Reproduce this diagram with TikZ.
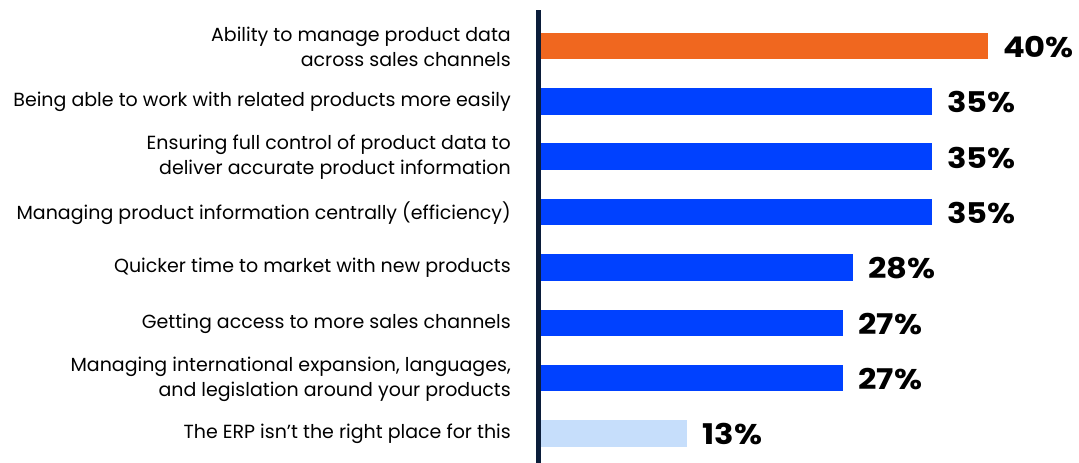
\documentclass[tikz,border=0pt]{standalone}
\usepackage{fontspec}
\setmainfont{Poppins}
\newfontfamily\valfont{Poppins}[UprightFont=* Bold, FakeStretch=1.13]
\definecolor{axisnavy}{HTML}{0B1D3A}
\definecolor{barorange}{HTML}{F0671F}
\definecolor{barblue}{HTML}{0041FF}
\definecolor{barlight}{HTML}{C6DEFB}
\tikzset{
  bar/.style={inner sep=0pt, outer sep=0pt, minimum height=26.5pt, anchor=west},
  catlabel/.style={anchor=east, align=right, inner sep=0pt, font=\fontsize{19}{25}\selectfont},
  vallabel/.style={anchor=west, inner sep=0pt, xshift=15pt, yshift=-1pt, font=\fontsize{28.5}{30}\valfont},
}
\begin{document}
\begin{tikzpicture}[x=1pt,y=-1pt]
\useasboundingbox (0,0) rectangle (1079,463);
% bars
\node[bar, fill=barorange, minimum width=447.2pt] (b1) at (540.7,46) {};
\node[bar, fill=barblue, minimum width=391.3pt] (b2) at (540.7,101.4) {};
\node[bar, fill=barblue, minimum width=391.3pt] (b3) at (540.7,156.7) {};
\node[bar, fill=barblue, minimum width=391.3pt] (b4) at (540.7,212.1) {};
\node[bar, fill=barblue, minimum width=312.5pt] (b5) at (540.7,267.4) {};
\node[bar, fill=barblue, minimum width=302.5pt] (b6) at (540.7,322.8) {};
\node[bar, fill=barblue, minimum width=302.5pt] (b7) at (540.7,378.1) {};
\node[bar, fill=barlight, minimum width=146.5pt] (b8) at (540.7,433.5) {};
% axis
\coordinate (axtop) at (538.3,10);
\coordinate (axbot) at (538.3,463);
\draw[axisnavy, line width=4.6pt] (axtop) -- (axbot);
% values
\node[vallabel] (v1) at (b1.east) {40\%};
\node[vallabel] (v2) at (b2.east) {35\%};
\node[vallabel] (v3) at (b3.east) {35\%};
\node[vallabel] (v4) at (b4.east) {35\%};
\node[vallabel] (v5) at (b5.east) {28\%};
\node[vallabel] (v6) at (b6.east) {27\%};
\node[vallabel] (v7) at (b7.east) {27\%};
\node[vallabel] (v8) at (b8.east) {13\%};
% category labels
\node[catlabel] (l1) at (511,47) {Ability to manage product data\\across sales channels};
\node[catlabel] (l2) at (511,102) {Being able to work with related products more easily};
\node[catlabel] (l3) at (511,157) {Ensuring full control of product data to\\deliver accurate product information};
\node[catlabel] (l4) at (511,213) {Managing product information centrally (efficiency)};
\node[catlabel] (l5) at (511,268) {Quicker time to market with new products};
\node[catlabel] (l6) at (511,324) {Getting access to more sales channels};
\node[catlabel] (l7) at (511,379) {Managing international expansion, languages,\\and legislation around your products};
\node[catlabel] (l8) at (511,434) {The ERP isn’t the right place for this};
\end{tikzpicture}
\end{document}
